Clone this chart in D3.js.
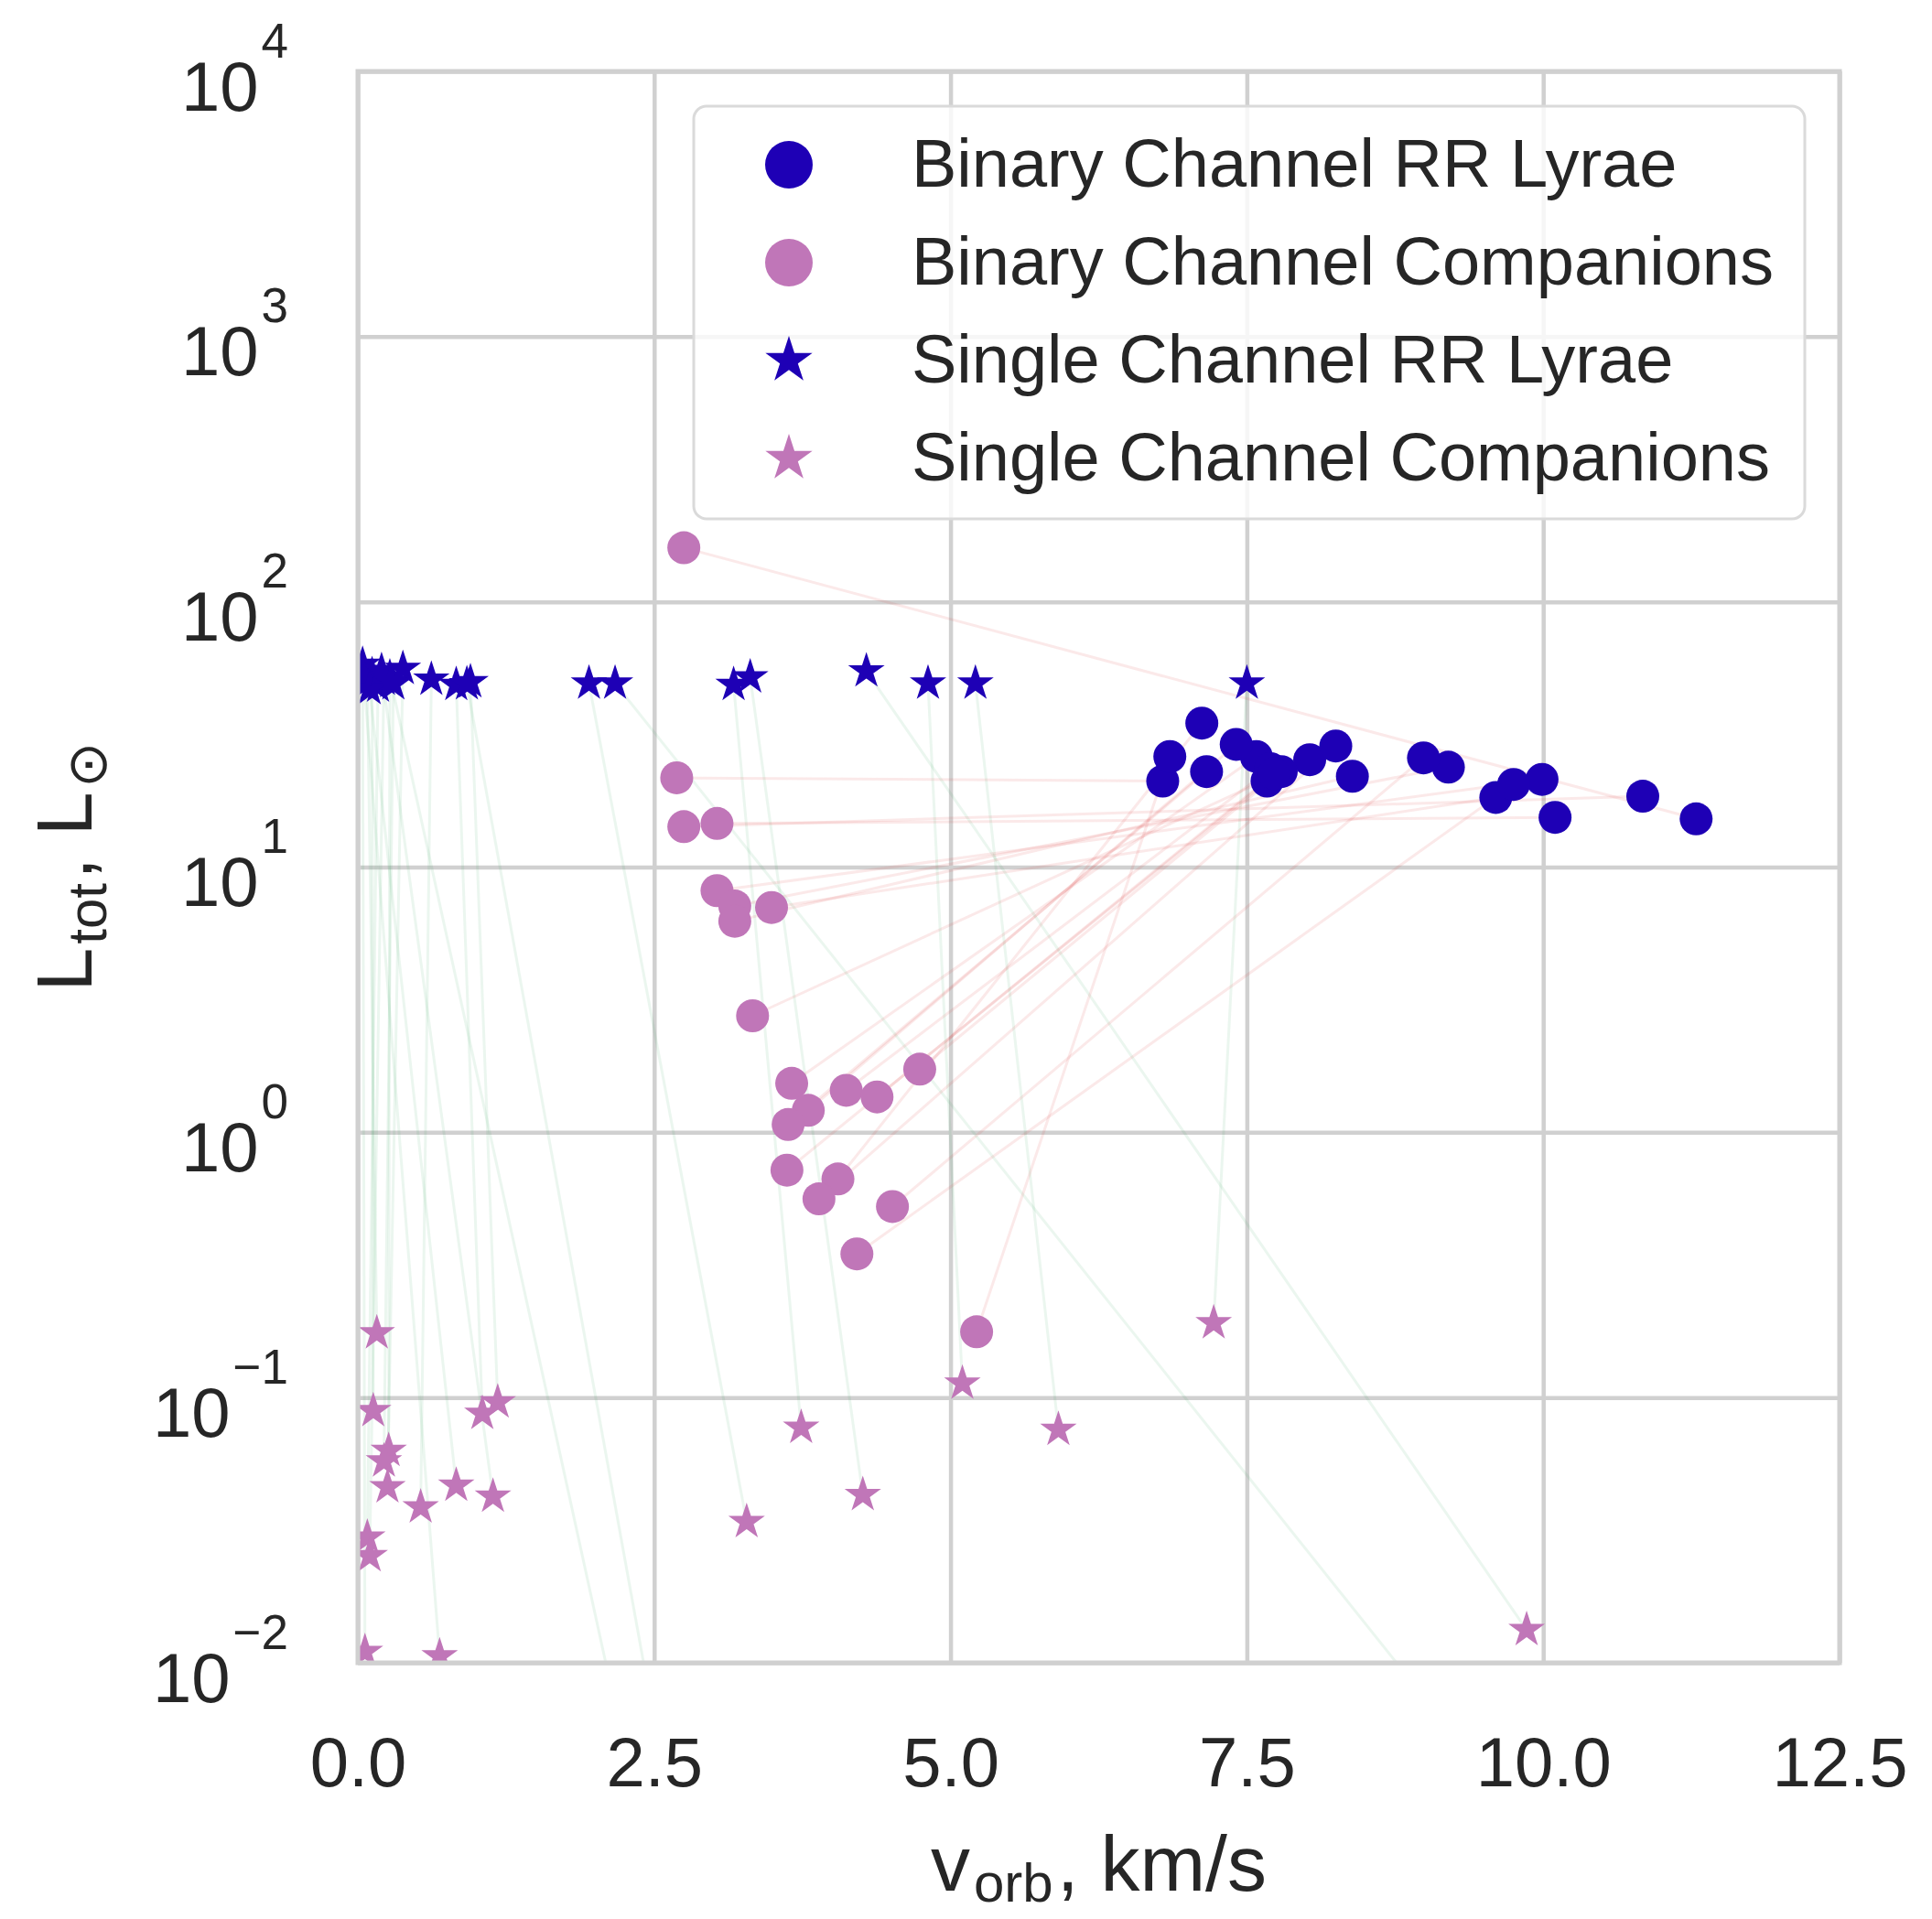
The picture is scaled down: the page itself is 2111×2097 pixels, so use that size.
<!DOCTYPE html>
<html>
<head>
<meta charset="utf-8">
<script src="https://cdn.jsdelivr.net/npm/d3@7"></script>
<style>
  body { margin: 0; background: #fff; }
  text { font-family: "Liberation Sans", Arial, sans-serif; fill: #262626; }
</style>
</head>
<body>
<div id="chart"></div>
<script>
// Data: [v_orb km/s, L_tot in L_sun], RR Lyrae and companion lists are paired by index
const binaryRRLyrae = [
  [11.29, 15.2], [6.79, 21.1], [10.84, 18.5], [10.10, 15.4], [9.99, 21.4],
  [9.20, 23.8], [9.60, 18.3], [8.39, 22.0], [8.03, 25.4], [7.58, 26.1],
  [7.70, 23.5], [7.67, 21.1], [7.79, 22.9], [7.41, 29.0], [7.16, 22.9],
  [7.73, 22.5], [7.12, 34.9], [8.25, 28.6], [8.99, 25.8], [9.75, 20.5],
  [6.85, 26.1]
];
const binaryCompanions = [
  [2.75, 160], [2.69, 21.7], [2.75, 14.2], [3.03, 14.6], [3.03, 8.15],
  [3.18, 7.13], [3.49, 7.04], [3.18, 6.25], [3.33, 2.75], [3.66, 1.53],
  [4.12, 1.44], [4.38, 1.36], [4.74, 1.73], [3.80, 1.21], [3.63, 1.07],
  [3.62, 0.72], [4.05, 0.667], [3.89, 0.561], [4.51, 0.525], [4.21, 0.348],
  [5.22, 0.177]
];
const singleRRLyrae = [
  [0.04, 58], [0.08, 50], [0.12, 53], [0.17, 48], [0.22, 51],
  [0.27, 52], [0.30, 49], [0.38, 56], [0.62, 51], [0.83, 48.7],
  [0.95, 49.9], [0.05, 52], [0.10, 47], [0.20, 55], [0.28, 50],
  [0.92, 49], [1.95, 49.3], [2.17, 49.3], [3.17, 48.7], [3.31, 52],
  [4.29, 54.8], [4.81, 49.3], [5.21, 49.3], [7.50, 49.3]
];
const singleCompanions = [
  [0.06, 0.011], [0.16, 0.175], [0.13, 0.089], [0.08, 0.0297], [0.10, 0.0253],
  [0.26, 0.063], [0.22, 0.0575], [0.25, 0.046], [0.53, 0.0386], [1.05, 0.087],
  [1.18, 0.096], [0.69, 0.0106], [0.83, 0.0466], [1.14, 0.0424], [2.2, 0.006],
  [2.5, 0.006], [3.28, 0.034], [9.3, 0.005], [3.74, 0.077], [4.26, 0.043],
  [9.86, 0.0133], [5.10, 0.113], [5.91, 0.0757], [7.22, 0.191]
];

const xTicks = [0, 2.5, 5, 7.5, 10, 12.5];
const yExponents = [-2, -1, 0, 1, 2, 3, 4];
const legendLabels = [
  "Binary Channel RR Lyrae",
  "Binary Channel Companions",
  "Single Channel RR Lyrae",
  "Single Channel Companions"
];

const blue = "#1e00b5";
const pink = "#c076b8";
const gridColor = "#d0d0d0";

// Dimensions
const dimensions = {
  width: 2111,
  height: 2097,
  left: 391,
  right: 2010,
  top: 78,
  bottom: 1817
};
const plotW = dimensions.right - dimensions.left;
const plotH = dimensions.bottom - dimensions.top;

const svg = d3.select("#chart")
  .append("svg")
  .attr("width", dimensions.width)
  .attr("height", dimensions.height);

svg.append("rect")
  .attr("width", dimensions.width)
  .attr("height", dimensions.height)
  .attr("fill", "#fff");

// Scales
const xScale = d3.scaleLinear()
  .domain([0, 12.5])
  .range([dimensions.left, dimensions.right]);

const yScale = d3.scaleLog()
  .domain([1e-2, 1e4])
  .range([dimensions.bottom, dimensions.top]);

// Grid + tick labels through the axes
const xAxisG = svg.append("g")
  .attr("transform", `translate(0, ${dimensions.bottom})`)
  .call(d3.axisBottom(xScale).tickValues(xTicks).tickSize(-plotH).tickFormat(d3.format(".1f")));
xAxisG.select(".domain").remove();
xAxisG.selectAll(".tick line").attr("stroke", gridColor).attr("stroke-width", 4.5);
xAxisG.selectAll(".tick text")
  .attr("y", 135)
  .attr("dy", null)
  .attr("font-size", 76)
  .attr("font-family", "Liberation Sans, Arial, sans-serif")
  .attr("fill", "#262626");

const yAxisG = svg.append("g")
  .attr("transform", `translate(${dimensions.left}, 0)`)
  .call(d3.axisLeft(yScale).tickValues(yExponents.map((e) => Math.pow(10, e))).tickSize(-plotW).tickFormat(() => ""));
yAxisG.select(".domain").remove();
yAxisG.selectAll(".tick line").attr("stroke", gridColor).attr("stroke-width", 4.5);
yAxisG.selectAll(".tick text").each(function (d) {
  const t = d3.select(this);
  const e = Math.round(Math.log10(d));
  t.attr("x", -76)
    .attr("y", 42)
    .attr("dy", null)
    .attr("text-anchor", "end")
    .attr("font-size", 76)
    .attr("font-family", "Liberation Sans, Arial, sans-serif")
    .attr("fill", "#262626");
  t.append("tspan").text("10");
  t.append("tspan")
    .attr("dy", -58)
    .attr("dx", 3)
    .attr("font-size", 53)
    .text(e < 0 ? "\u2212" + Math.abs(e) : String(e));
});

// Clip
svg.append("clipPath")
  .attr("id", "plot-clip")
  .append("rect")
  .attr("x", dimensions.left)
  .attr("y", dimensions.top)
  .attr("width", plotW)
  .attr("height", plotH);

const ctr = svg.append("g").attr("clip-path", "url(#plot-clip)");

// Connecting lines
ctr.append("g")
  .selectAll("line")
  .data(singleRRLyrae)
  .join("line")
  .attr("x1", (d) => xScale(d[0]))
  .attr("y1", (d) => yScale(d[1]))
  .attr("x2", (d, i) => xScale(singleCompanions[i][0]))
  .attr("y2", (d, i) => yScale(singleCompanions[i][1]))
  .attr("stroke", "rgb(60,170,100)")
  .attr("stroke-opacity", 0.1)
  .attr("stroke-width", 3);

ctr.append("g")
  .selectAll("line")
  .data(binaryRRLyrae)
  .join("line")
  .attr("x1", (d) => xScale(d[0]))
  .attr("y1", (d) => yScale(d[1]))
  .attr("x2", (d, i) => xScale(binaryCompanions[i][0]))
  .attr("y2", (d, i) => yScale(binaryCompanions[i][1]))
  .attr("stroke", "rgb(220,70,70)")
  .attr("stroke-opacity", 0.12)
  .attr("stroke-width", 3);

// Markers
const starPath = (r) => d3.symbol(d3.symbolStar, (r * r) / 0.8908130915292852)();

function drawStars(data, color, r) {
  ctr.append("g")
    .selectAll("path")
    .data(data)
    .join("path")
    .attr("d", starPath(r))
    .attr("transform", (d) => `translate(${xScale(d[0])}, ${yScale(d[1])})`)
    .attr("fill", color);
}

function drawCircles(data, color, r) {
  ctr.append("g")
    .selectAll("circle")
    .data(data)
    .join("circle")
    .attr("cx", (d) => xScale(d[0]))
    .attr("cy", (d) => yScale(d[1]))
    .attr("r", r)
    .attr("fill", color);
}

drawCircles(binaryRRLyrae, blue, 18);
drawCircles(binaryCompanions, pink, 18);
drawStars(singleRRLyrae, blue, 21);
drawStars(singleCompanions, pink, 21);

// Frame
svg.append("rect")
  .attr("x", dimensions.left)
  .attr("y", dimensions.top)
  .attr("width", plotW)
  .attr("height", plotH)
  .attr("fill", "none")
  .attr("stroke", gridColor)
  .attr("stroke-width", 5);

// Axis labels
svg.append("text")
  .attr("x", (dimensions.left + dimensions.right) / 2)
  .attr("y", 2066)
  .attr("text-anchor", "middle")
  .attr("font-size", 86)
  .call((t) => {
    t.append("tspan").text("v");
    t.append("tspan").attr("dx", 4).attr("dy", 12).attr("font-size", 60).text("orb");
    t.append("tspan").attr("dx", 4).attr("dy", -12).text(", km/s");
  });

svg.append("text")
  .attr("transform", `translate(100, ${(dimensions.top + dimensions.bottom) / 2}) rotate(-90)`)
  .attr("text-anchor", "middle")
  .attr("font-size", 86)
  .call((t) => {
    t.append("tspan").text("L");
    t.append("tspan").attr("dx", 4).attr("dy", 16).attr("font-size", 60).text("tot");
    t.append("tspan").attr("dx", 4).attr("dy", -16).text(", L");
    t.append("tspan").attr("dx", 4).attr("dy", 16).attr("font-size", 60).text("\u2299");
  });

// Legend
const legend = svg.append("g");
legend.append("rect")
  .attr("x", 758)
  .attr("y", 116)
  .attr("width", 1972 - 758)
  .attr("height", 567 - 116)
  .attr("rx", 14)
  .attr("fill", "#fff")
  .attr("fill-opacity", 0.8)
  .attr("stroke", "#dadada")
  .attr("stroke-width", 3);

const legendItems = legend.selectAll("g.item")
  .data(legendLabels)
  .join("g")
  .attr("class", "item")
  .attr("transform", (d, i) => `translate(862, ${180 + i * 107})`);

legendItems.each(function (d, i) {
  const g = d3.select(this);
  const color = i % 2 === 0 ? blue : pink;
  if (i < 2) {
    g.append("circle").attr("r", 26).attr("fill", color);
  } else {
    g.append("path").attr("d", starPath(27)).attr("fill", color);
  }
  g.append("text")
    .attr("x", 134)
    .attr("y", 24)
    .attr("font-size", 74)
    .text(d);
});
</script>
</body>
</html>
